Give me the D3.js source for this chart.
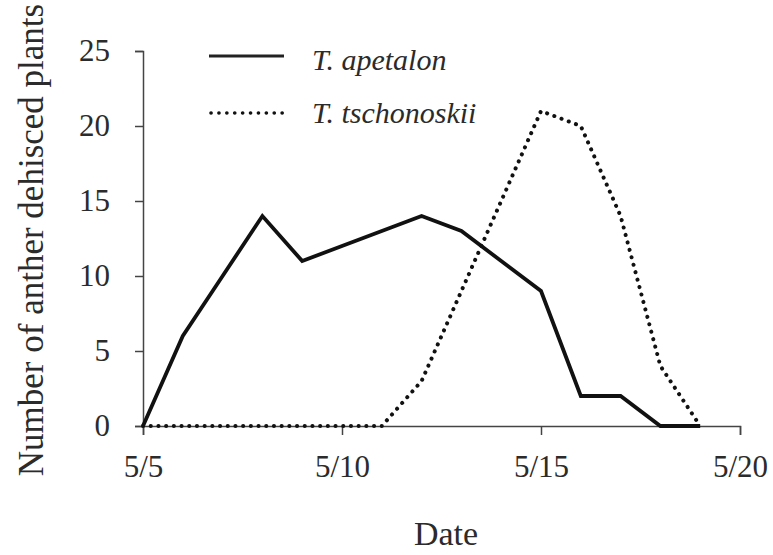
<!doctype HTML>
<html>
<head>
    <script src="https://d3js.org/d3.v7.min.js"></script>
    <style>
        body { margin: 0; background: #fff; }
        text { font-family: "Liberation Serif", "Times New Roman", serif; fill: #2b2b2b; }
    </style>
</head>
<body>
<script>
    // day of May
    var days = [5, 6, 7, 8, 9, 10, 11, 12, 13, 14, 15, 16, 17, 18, 19];
    var apetalon = [0, 6, 10, 14, 11, 12, 13, 14, 13, 11, 9, 2, 2, 0, 0];
    var tschonoskii = [0, 0, 0, 0, 0, 0, 0, 3, 9, 15, 21, 20, 14, 4, 0];
    var xTicks = [5, 10, 15, 20];
    var yTicks = [0, 5, 10, 15, 20, 25];
    var seriesNames = ["T. apetalon", "T. tschonoskii"];

    var svg = d3.select("body").append("svg")
        .attr("width", 773)
        .attr("height", 555);

    var xScale = d3.scaleLinear().domain([5, 20]).range([143, 740]);
    var yScale = d3.scaleLinear().domain([0, 25]).range([426, 51]);

    // x axis
    var xAxis = svg.append("g")
        .attr("transform", "translate(0,426)")
        .call(d3.axisBottom(xScale).tickValues(xTicks).tickSize(9).tickPadding(20)
            .tickFormat(function(d) { return "5/" + d; }));
    xAxis.selectAll("text").style("font-size", "31px");

    // y axis
    var yAxis = svg.append("g")
        .attr("transform", "translate(143,0)")
        .call(d3.axisLeft(yScale).tickValues(yTicks).tickSize(8).tickPadding(25));
    yAxis.selectAll("text").style("font-size", "31px");

    svg.selectAll(".domain, .tick line")
        .attr("stroke", "#444")
        .attr("stroke-width", 1.5);

    var line = d3.line()
        .x(function(d, i) { return xScale(days[i]); })
        .y(function(d) { return yScale(d); });

    svg.append("path")
        .datum(tschonoskii)
        .attr("d", line)
        .attr("fill", "none")
        .attr("stroke", "#111")
        .attr("stroke-width", 4)
        .attr("stroke-linecap", "round")
        .attr("stroke-dasharray", "0.1 7.6");

    svg.append("path")
        .datum(apetalon)
        .attr("d", line)
        .attr("fill", "none")
        .attr("stroke", "#111")
        .attr("stroke-width", 3.8);

    // legend
    var legend = svg.append("g");
    legend.append("line")
        .attr("x1", 209).attr("x2", 284).attr("y1", 56).attr("y2", 56)
        .attr("stroke", "#222").attr("stroke-width", 3.2);
    legend.append("line")
        .attr("x1", 211).attr("x2", 283).attr("y1", 113).attr("y2", 113)
        .attr("stroke", "#111").attr("stroke-width", 3.6)
        .attr("stroke-linecap", "round").attr("stroke-dasharray", "0.1 7.8");
    legend.selectAll(".lab")
        .data(seriesNames)
        .enter().append("text")
        .attr("x", 312)
        .attr("y", function(d, i) { return 70 + i * 53; })
        .style("font-size", "30px")
        .style("font-style", "italic")
        .text(function(d) { return d; });

    // axis titles
    svg.append("text")
        .attr("x", 446).attr("y", 545)
        .attr("text-anchor", "middle")
        .style("font-size", "34px")
        .text("Date");

    svg.append("text")
        .attr("transform", "translate(43,240) rotate(-90)")
        .attr("text-anchor", "middle")
        .style("font-size", "35px")
        .text("Number of anther dehisced plants");
</script>
</body>
</html>
